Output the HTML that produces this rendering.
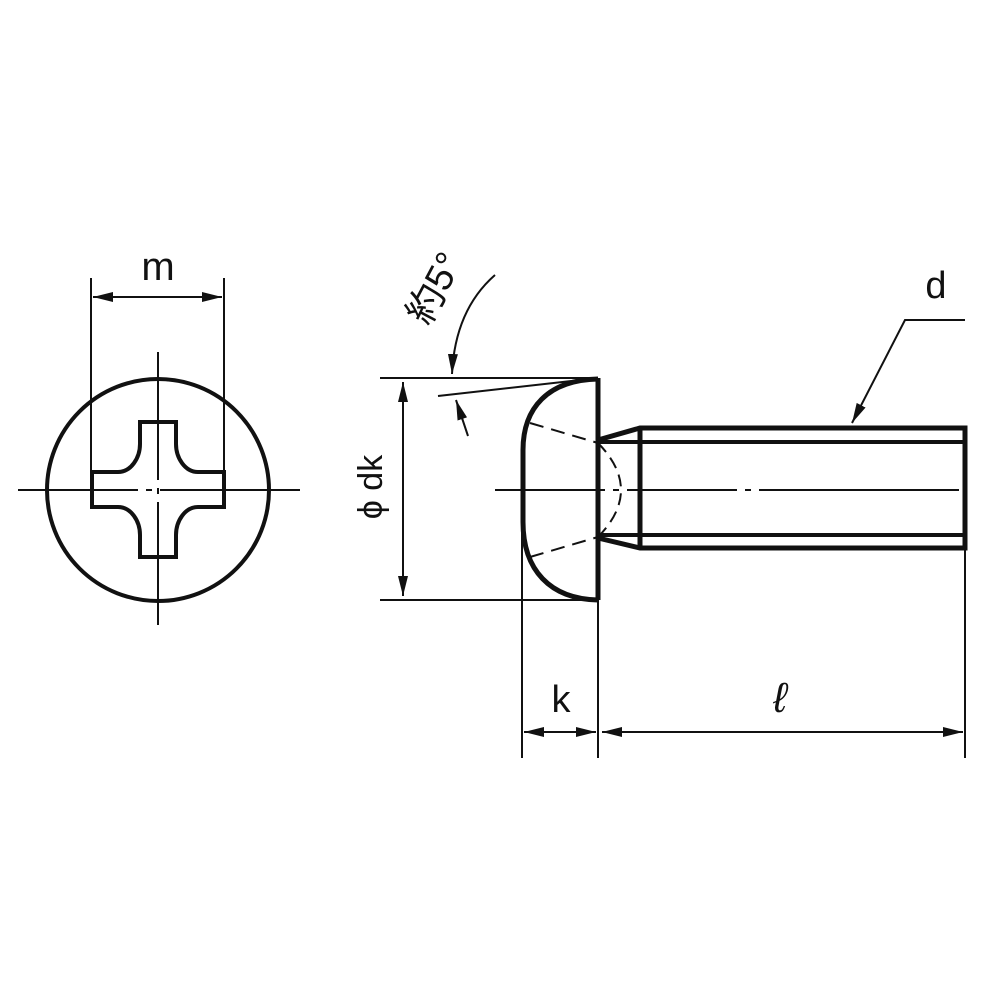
<!DOCTYPE html>
<html><head><meta charset="utf-8"><style>
html,body{margin:0;padding:0;background:#fff;}
svg{display:block;}
text{font-family:"Liberation Sans","Noto Sans CJK JP",sans-serif;fill:#111;}
</style></head><body>
<svg width="1000" height="1000" viewBox="0 0 1000 1000" xmlns="http://www.w3.org/2000/svg">
<defs>
<marker id="a" viewBox="0 0 20 10" refX="20" refY="5" markerWidth="20" markerHeight="10" markerUnits="userSpaceOnUse" orient="auto-start-reverse">
<path d="M0,0 L20,5 L0,10 z" fill="#111"/>
</marker>
</defs>
<g stroke="#111" fill="none">
<!-- Left view -->
<circle cx="158" cy="490" r="111" stroke-width="4"/>
<path d="M92,472 L118,472 C131,472 140,458 140,444 L140,422 L176,422 L176,444 C176,458 185,472 198,472 L224,472 L224,507 L198,507 C185,507 176,521 176,535 L176,557 L140,557 L140,535 C140,521 131,507 118,507 L92,507 Z" stroke-width="4"/>
<path d="M18,490 H300" stroke-width="2" stroke-dasharray="120,8,6,8,200"/>
<path d="M158,352 V625" stroke-width="2" stroke-dasharray="128,8,6,8,200"/>
<path d="M91,278 V500 M224,278 V500" stroke-width="2"/>
<path d="M93,297 H222" stroke-width="2" marker-start="url(#a)" marker-end="url(#a)"/>

<!-- Right view head -->
<path d="M598,378 V600" stroke-width="5"/>
<path d="M598,379 C548,380 523,408 523,450 L523,522 C523,570 550,599 598,600" stroke-width="5"/>
<path d="M530,423 L598,443" stroke-width="2" stroke-dasharray="14,8"/>
<path d="M598,443 Q644,490 598,537" stroke-width="2" stroke-dasharray="12,7"/>
<path d="M530,557 L598,537" stroke-width="2" stroke-dasharray="14,8"/>
<!-- shank -->
<path d="M598,440 L640,428 H965 V548 H640 L598,538" stroke-width="5"/>
<path d="M640,428 V548" stroke-width="5"/>
<path d="M598,442 H965 M598,535 H965" stroke-width="4"/>
<path d="M495,490 H995" stroke-width="2" stroke-dasharray="110,8,6,8,110,8,6,8,200"/>

<!-- dk dim -->
<path d="M380,378 H598 M380,600 H598" stroke-width="2"/>
<path d="M403,382 V596" stroke-width="2" marker-start="url(#a)" marker-end="url(#a)"/>
<!-- angle -->
<path d="M438,396 L598,378" stroke-width="2"/>
<path d="M495,275 Q455,310 452,374" stroke-width="2" marker-end="url(#a)"/>
<path d="M468,436 L456,400" stroke-width="2" marker-end="url(#a)"/>

<!-- d leader -->
<path d="M965,320 H905 L852,423" stroke-width="2" marker-end="url(#a)"/>

<!-- k / l dims -->
<path d="M522,520 V758 M598,600 V758 M965,548 V758" stroke-width="2"/>
<path d="M524,732 H596" stroke-width="2" marker-start="url(#a)" marker-end="url(#a)"/>
<path d="M602,732 H963" stroke-width="2" marker-start="url(#a)" marker-end="url(#a)"/>
</g>
<text x="158" y="280" font-size="40" text-anchor="middle">m</text>
<text x="936" y="298" font-size="38" text-anchor="middle">d</text>
<text x="561" y="712" font-size="38" text-anchor="middle">k</text>
<text x="780" y="712" font-size="42" text-anchor="middle" font-style="italic">ℓ</text>
<text transform="translate(382,487) rotate(-90)" font-size="34" text-anchor="middle">ϕ dk</text>
<text transform="translate(446,294) rotate(-62)" font-size="38" text-anchor="middle">約5°</text>
</svg>
</body></html>
